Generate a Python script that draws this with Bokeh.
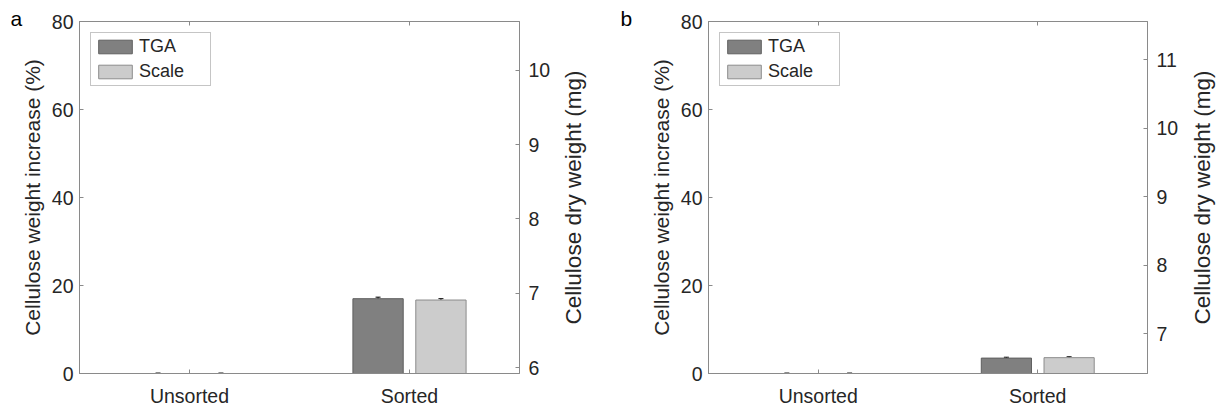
from bokeh.plotting import figure
from bokeh.models import (Range1d, LinearAxis, FixedTicker, Whisker, ColumnDataSource,
                          Legend, LegendItem, Title, TeeHead)
from bokeh.layouts import row
from bokeh.embed import file_html
from bokeh.resources import INLINE

# ---------------- data ----------------
categories = ["Unsorted", "Sorted"]
cat_pos = [1, 2]
panel_letters = ["a", "b"]

tga_a = [0.0, 17.0]
tga_a_err = [0.1, 0.35]
scale_a = [0.0, 16.7]
scale_a_err = [0.1, 0.3]

tga_b = [0.0, 3.5]
tga_b_err = [0.1, 0.2]
scale_b = [0.0, 3.6]
scale_b_err = [0.1, 0.2]

# dry weight (mg) corresponding to 0 % increase, per panel
base_weight = [5.92, 6.42]
right_ticks_a = [6, 7, 8, 9, 10]
right_ticks_b = [7, 8, 9, 10, 11]
left_ticks = [0, 20, 40, 60, 80]
y_max = 80

left_label = "Cellulose weight increase (%)"
right_label = "Cellulose dry weight (mg)"

FONT = "Liberation Sans"
AX = "#8a8a8a"
TXT = "#262626"
GROUP_OFFSET = 0.1429
BAR_W = 0.2286
H = 412
FRAME_H = 352
TOP = 21
BOTTOM = H - TOP - FRAME_H
TICK_FS = 19.5
LEFT_LABEL_FS = 21
RIGHT_LABEL_FS = 22.5


def make_panel(letter, tga, tga_err, scl, scl_err, w0, rticks, width, left_border, right_border):
    p = figure(width=width, height=H, x_range=Range1d(0.5, 2.5), y_range=Range1d(0, y_max),
               output_backend="svg", toolbar_location=None,
               min_border_left=left_border, min_border_right=right_border,
               min_border_top=TOP, min_border_bottom=BOTTOM)
    p.background_fill_color = "white"
    p.border_fill_color = "white"
    p.outline_line_color = AX
    p.grid.visible = False

    mg_lo, mg_hi = w0, w0 * (1 + y_max / 100.0)
    p.extra_y_ranges = {"mg": Range1d(mg_lo, mg_hi)}

    x_tga = [c - GROUP_OFFSET for c in cat_pos]
    x_scl = [c + GROUP_OFFSET for c in cat_pos]
    s_tga = ColumnDataSource(dict(x=x_tga, top=tga, up=[t + e for t, e in zip(tga, tga_err)],
                                  lo=[t - e for t, e in zip(tga, tga_err)]))
    s_scl = ColumnDataSource(dict(x=x_scl, top=scl, up=[t + e for t, e in zip(scl, scl_err)],
                                  lo=[t - e for t, e in zip(scl, scl_err)]))

    r1 = p.vbar(x="x", top="top", bottom=0, width=BAR_W, source=s_tga,
                fill_color="#808080", line_color="#5e5e5e", line_width=1)
    r2 = p.vbar(x="x", top="top", bottom=0, width=BAR_W, source=s_scl,
                fill_color="#cccccc", line_color="#8c8c8c", line_width=1)

    for s in (s_tga, s_scl):
        w = Whisker(base="x", upper="up", lower="lo", source=s, line_color="black", line_width=1,
                    upper_head=TeeHead(size=5, line_color="black"),
                    lower_head=TeeHead(size=5, line_color="black"))
        p.add_layout(w)

    # axes
    xa = p.xaxis[0]
    xa.ticker = FixedTicker(ticks=cat_pos)
    xa.major_label_overrides = {c: n for c, n in zip(cat_pos, categories)}
    ya = p.yaxis[0]
    ya.ticker = FixedTicker(ticks=left_ticks)
    ya.axis_label = left_label

    ra = LinearAxis(y_range_name="mg", ticker=FixedTicker(ticks=rticks))
    p.add_layout(ra, "right")

    ta = LinearAxis(ticker=FixedTicker(ticks=cat_pos),
                    major_label_overrides={c_: "" for c_ in cat_pos})
    p.add_layout(ta, "above")

    for ax in (xa, ya, ra, ta):
        ax.major_label_text_font = FONT
        ax.major_label_text_color = TXT
        ax.axis_label_text_font = FONT
        ax.axis_label_text_font_style = "normal"
        ax.axis_label_text_color = TXT
        ax.axis_label_text_font_size = f"{LEFT_LABEL_FS}px"
        ax.minor_tick_line_color = None
        ax.major_tick_in = 4
        ax.major_tick_out = 0
        ax.axis_line_color = AX
        ax.major_tick_line_color = AX
    for ax in (xa, ya, ra):
        ax.major_label_text_font_size = f"{TICK_FS}px"
    ta.major_label_text_color = None
    ta.major_label_text_font_size = "1px"
    ta.major_label_standoff = 0
    xa.major_label_standoff = 11
    ya.major_label_standoff = 6
    ra.major_label_standoff = 9
    ya.axis_label_standoff = 5

    legend = Legend(items=[LegendItem(label="TGA", renderers=[r1]),
                           LegendItem(label="Scale", renderers=[r2])],
                    location="top_left", margin=11, padding=3, spacing=4,
                    glyph_width=42, glyph_height=17, label_height=21, label_width=68,
                    label_standoff=3, label_text_font=FONT, label_text_font_size="18px",
                    label_text_color=TXT, border_line_color="#8c8c8c", border_line_width=1,
                    background_fill_alpha=1)
    p.add_layout(legend)

    # panel letter as a left-aligned title pushed into the left margin
    t = Title(text=letter, align="left", offset=-(left_border - 10), standoff=-16,
              text_font=FONT, text_font_size="21px", text_font_style="normal",
              text_color="black", vertical_align="bottom")
    p.add_layout(t, "above")
    return p


def make_side_label(text, width, label_border):
    # narrow strip whose (tick-less) left axis carries the right-hand axis title,
    # so that it reads bottom-to-top like the reference
    q = figure(width=width, height=H, output_backend="svg", toolbar_location=None,
               x_range=Range1d(0, 1), y_range=Range1d(0, 1),
               min_border_left=label_border, min_border_right=0,
               min_border_top=TOP, min_border_bottom=BOTTOM)
    q.outline_line_color = None
    q.grid.visible = False
    q.xaxis.visible = False
    q.background_fill_color = "white"
    q.border_fill_color = "white"
    ax = q.yaxis[0]
    ax.ticker = FixedTicker(ticks=[])
    ax.axis_line_color = None
    ax.major_tick_line_color = None
    ax.minor_tick_line_color = None
    ax.major_label_standoff = 0
    ax.axis_label = text
    ax.axis_label_standoff = 0
    ax.axis_label_text_font = FONT
    ax.axis_label_text_font_style = "normal"
    ax.axis_label_text_color = TXT
    ax.axis_label_text_font_size = f"{RIGHT_LABEL_FS}px"
    return q


pa = make_panel(panel_letters[0], tga_a, tga_a_err, scale_a, scale_a_err, base_weight[0],
                right_ticks_a, 557, 79, 38)
la = make_side_label(right_label, 53, 25)
pb = make_panel(panel_letters[1], tga_b, tga_b_err, scale_b, scale_b_err, base_weight[1],
                right_ticks_b, 576, 98, 39)
lb = make_side_label(right_label, 34, 25)

layout = row(pa, la, pb, lb, spacing=0)
open("out.html", "w").write(file_html(layout, INLINE))
